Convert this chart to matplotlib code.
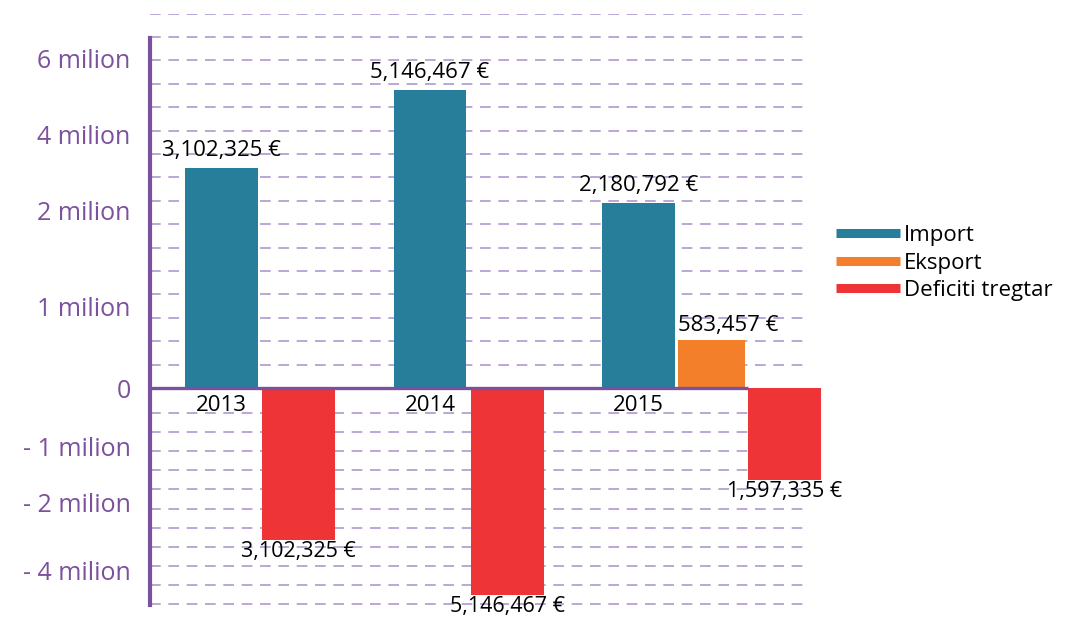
import numpy as np
import matplotlib
matplotlib.use('Agg')
import matplotlib.pyplot as plt
from matplotlib.lines import Line2D

plt.rcParams['font.family'] = ['Open Sans', 'DejaVu Sans']

years = ['2013', '2014', '2015']
imports = [3102325, 5146467, 2180792]
exports = [0, 0, 583457]
deficits = [-3102325, -5146467, -1597335]
series_names = ['Import', 'Eksport', 'Deficiti tregtar']

tick_values = [6e6, 4e6, 2e6, 1e6, 0, -1e6, -2e6, -4e6]
tick_labels = ['6 milion', '4 milion', '2 milion', '1 milion', '0',
               '- 1 milion', '- 2 milion', '- 4 milion']

# the original axis is not uniform: value (millions) -> height in pixels
SCALE_M = [-8, -6, -4, -2, -1, 0, 1, 2, 4, 6, 8]
SCALE_H = [-267, -225, -183, -114, -59, 0, 82, 178, 254, 330, 400]


def fwd(v):
    return np.interp(np.asarray(v, dtype=float) / 1e6, SCALE_M, SCALE_H)


def inv(h):
    return np.interp(np.asarray(h, dtype=float), SCALE_H, SCALE_M) * 1e6


c_imp = '#267e9b'
c_exp = '#f47f2a'
c_def = '#ee3436'
purple = '#7b519d'
grid_c = '#a88fcb'

fig = plt.figure(figsize=(10.84, 6.18), dpi=100)
ax = fig.add_axes([150 / 1084, 11 / 618, 672 / 1084, 593 / 618])
ax.set_yscale('function', functions=(fwd, inv))

px = 208.5  # pixels per group
ax.set_xlim(-71.5 / px, -71.5 / px + 672 / px)
ax.set_ylim(inv(-219), inv(374))

w = 0.35
x = np.arange(len(years))
exp_off = 0.35
def_off = np.array([0.37 if e == 0 else 0.70 for e in exports])

ax.bar(x, imports, w, color=c_imp, zorder=2)
has_exp = np.array(exports) > 0
ax.bar(x[has_exp] + exp_off, np.array(exports)[has_exp], w * 0.93,
       color=c_exp, zorder=2)
ax.bar(x + def_off, deficits, w, color=c_def, zorder=2, clip_on=False)

# dashed background lines
gx = (809 - 150) / 672
for k in range(1, 17):
    ax.axhline(inv(23.4 * k), xmax=gx, color=grid_c, lw=1.1,
               dashes=(7, 5), zorder=0)
for k in range(11):
    ax.axhline(inv(-25 - 19.1 * k), xmax=gx, color=grid_c, lw=1.1,
               dashes=(7, 5), zorder=0)

ax.hlines(0, ax.get_xlim()[0], x[-1] + exp_off + w / 2, color=purple,
          lw=2.4, zorder=3)

for s in ['top', 'right', 'bottom']:
    ax.spines[s].set_visible(False)
ax.spines['left'].set_color(purple)
ax.spines['left'].set_linewidth(3)
ax.spines['left'].set_bounds(inv(-217), inv(350))

ax.set_xticks([])
ax.set_yticks(tick_values, tick_labels)
ax.yaxis.set_minor_locator(matplotlib.ticker.NullLocator())
ax.tick_params(axis='y', length=0, pad=14, labelsize=18, labelcolor=purple)

for i, v in enumerate(imports):
    ax.annotate(f'{v:,} €', (x[i], v), xytext=(0, 5), textcoords='offset points',
                ha='center', va='bottom', fontsize=16)
    ax.annotate(years[i], (x[i], 0), xytext=(0, -5), textcoords='offset points',
                ha='center', va='top', fontsize=16)
for i, v in enumerate(exports):
    if v > 0:
        ax.annotate(f'{v:,} €', (x[i] + exp_off, v), xytext=(12, 3),
                    textcoords='offset points', ha='center', va='bottom',
                    fontsize=16)
for i, v in enumerate(deficits):
    ax.annotate(f'{abs(v):,} €', (x[i] + def_off[i], v), xytext=(0, -1),
                textcoords='offset points', ha='center', va='top',
                fontsize=15.5, annotation_clip=False)

handles = [Line2D([], [], color=c, lw=6.5, solid_capstyle='butt')
           for c in [c_imp, c_exp, c_def]]
fig.legend(handles, series_names, loc='center left',
           bbox_to_anchor=(836 / 1084, 1 - 263 / 618), frameon=False,
           fontsize=16, handlelength=2.9, handletextpad=0.15,
           labelspacing=0.3, borderpad=0, borderaxespad=0)

fig.savefig('out.png', dpi=100)
